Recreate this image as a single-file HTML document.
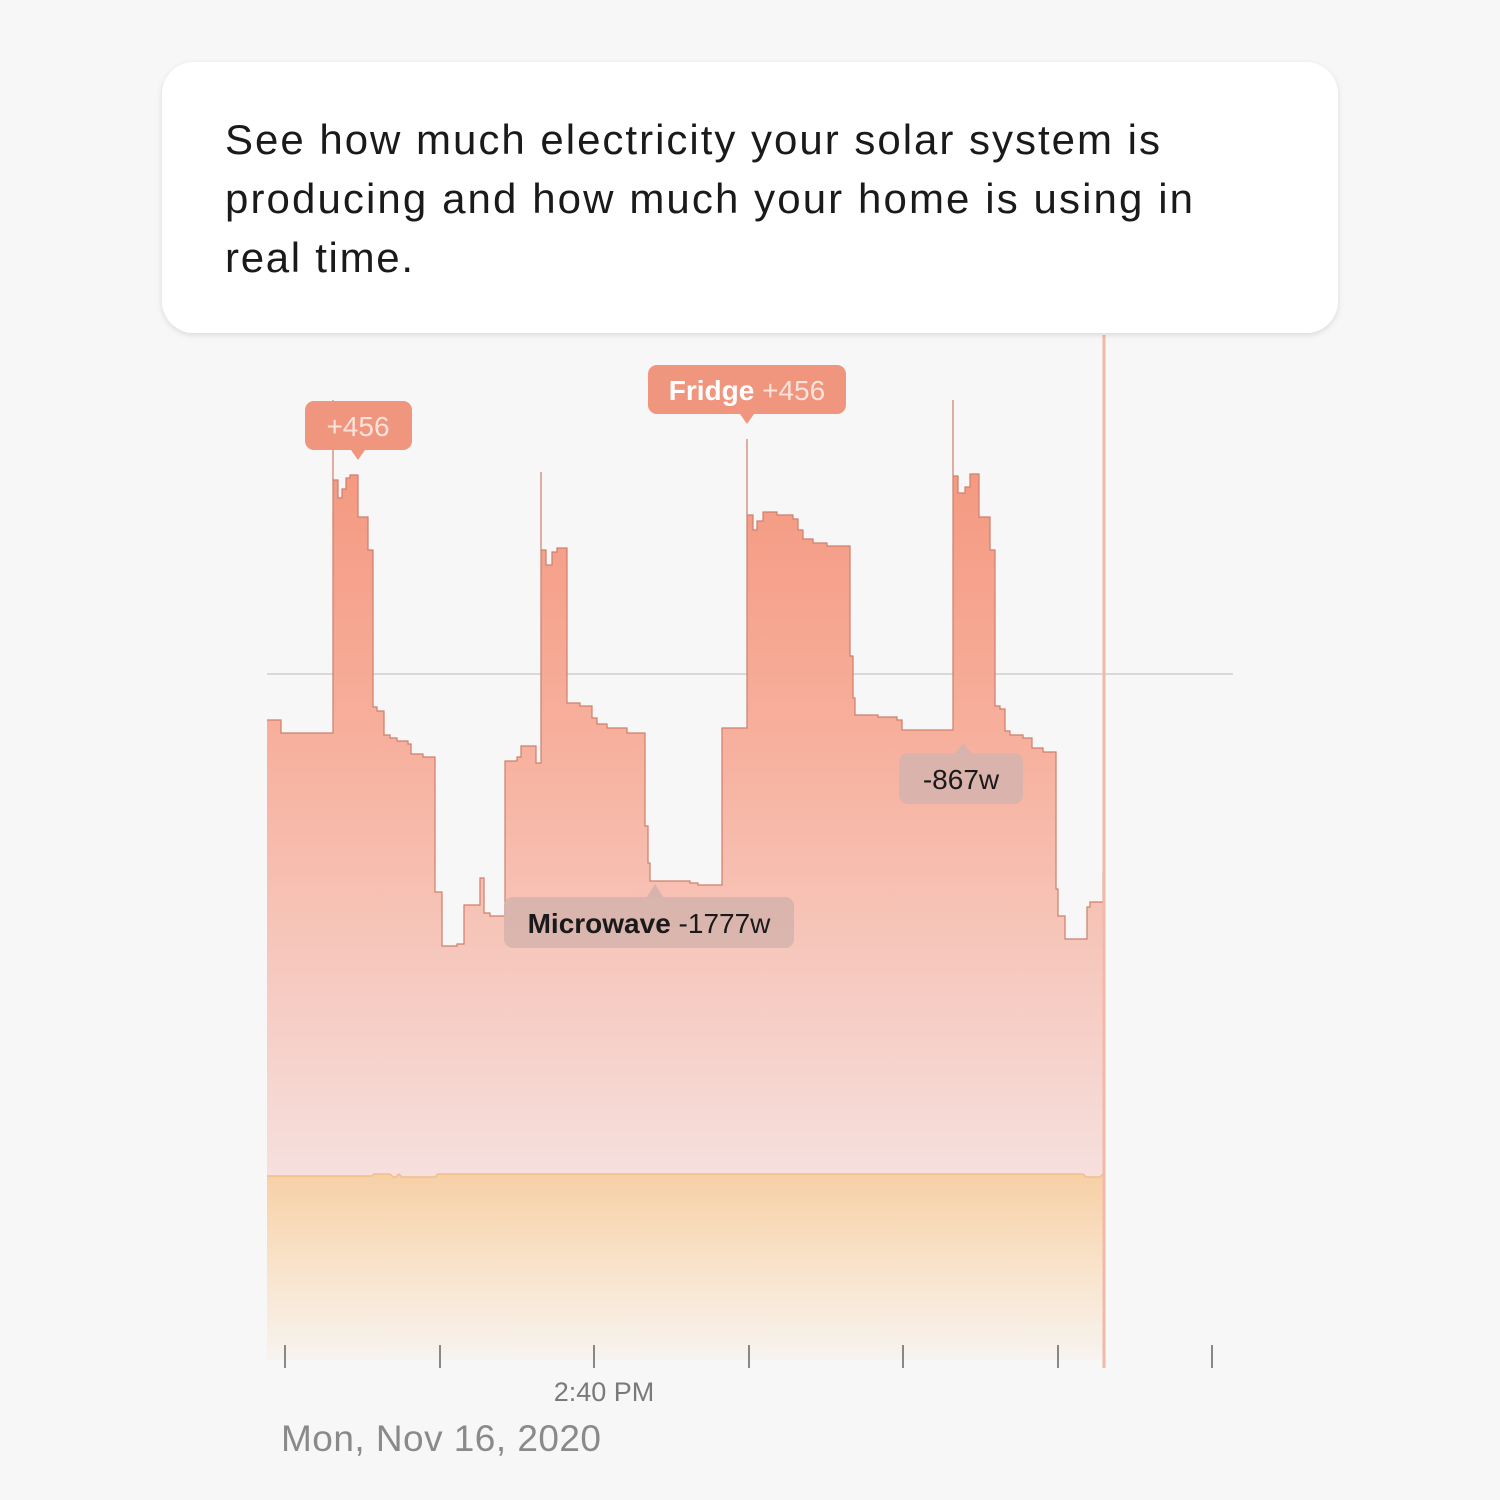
<!DOCTYPE html>
<html><head><meta charset="utf-8"><style>
html,body{margin:0;padding:0;background:#f7f7f7;}
svg{display:block}
</style></head><body>
<svg width="1500" height="1500" viewBox="0 0 1500 1500" xmlns="http://www.w3.org/2000/svg">
<defs>
<linearGradient id="g1" x1="0" y1="400" x2="0" y2="1180" gradientUnits="userSpaceOnUse">
<stop offset="0" stop-color="#f4937a"/>
<stop offset="0.45" stop-color="#f7b19e"/>
<stop offset="1" stop-color="#f6e0de"/>
</linearGradient>
<linearGradient id="g2" x1="0" y1="1176" x2="0" y2="1365" gradientUnits="userSpaceOnUse">
<stop offset="0" stop-color="#f7d0a6"/>
<stop offset="0.5" stop-color="#f8e4cc"/>
<stop offset="1" stop-color="#f7f4f2"/>
</linearGradient>
<filter id="sh" x="-5%" y="-10%" width="110%" height="125%"><feDropShadow dx="0" dy="2" stdDeviation="3" flood-color="#000" flood-opacity="0.12"/></filter>
</defs>
<rect width="1500" height="1500" fill="#f7f7f7"/>
<line x1="267" y1="674" x2="1233" y2="674" stroke="#d9d9d9" stroke-width="2"/>
<path id="top" fill="url(#g1)" stroke="none" d="M267,1360 L267,720 L281,720 L281,733 L333,733 L333,480 L338,480 L338,498 L342,498 L342,489 L346,489 L346,478 L350,478 L350,475 L358,475 L358,517 L368,517 L368,550 L373,550 L373,707 L377,707 L377,711 L384,711 L384,735 L390,735 L390,738 L397,738 L397,741 L408,741 L408,744 L411,744 L411,754 L423,754 L423,757 L435,757 L435,892 L442,892 L442,946 L457,946 L457,944 L464,944 L464,905 L480,905 L480,878 L484,878 L484,913 L490,913 L490,916 L505,916 L505,761 L517,761 L517,757 L521,757 L521,746 L536,746 L536,763 L541,763 L541,550 L546,550 L546,565 L552,565 L552,552 L557,552 L557,548 L567,548 L567,703 L580,703 L580,706 L592,706 L592,718 L597,718 L597,724 L607,724 L607,728 L627,728 L627,733 L645,733 L645,826 L648,826 L648,863 L650,863 L650,881 L690,881 L690,883 L698,883 L698,885 L722,885 L722,728 L747,728 L747,515 L753,515 L753,530 L757,530 L757,521 L763,521 L763,512 L777,512 L777,515 L793,515 L793,519 L798,519 L798,530 L803,530 L803,539 L813,539 L813,543 L827,543 L827,546 L850,546 L850,656 L853,656 L853,698 L855,698 L855,715 L878,715 L878,717 L897,717 L897,720 L902,720 L902,730 L953,730 L953,476 L958,476 L958,493 L965,493 L965,487 L970,487 L970,474 L979,474 L979,517 L990,517 L990,550 L995,550 L995,706 L1000,706 L1000,709 L1005,709 L1005,731 L1010,731 L1010,735 L1023,735 L1023,738 L1032,738 L1032,748 L1043,748 L1043,752 L1056,752 L1056,889 L1058,889 L1058,916 L1065,916 L1065,939 L1087,939 L1087,907 L1090,907 L1090,902 L1103,902 L1103,872 L1103,1360 Z"/>
<path fill="none" stroke="#cf7f6b" stroke-width="1.2" d="M267,720 L281,720 L281,733 L333,733 L333,400 L333,480 L338,480 L338,498 L342,498 L342,489 L346,489 L346,478 L350,478 L350,475 L358,475 L358,517 L368,517 L368,550 L373,550 L373,707 L377,707 L377,711 L384,711 L384,735 L390,735 L390,738 L397,738 L397,741 L408,741 L408,744 L411,744 L411,754 L423,754 L423,757 L435,757 L435,892 L442,892 L442,946 L457,946 L457,944 L464,944 L464,905 L480,905 L480,878 L484,878 L484,913 L490,913 L490,916 L505,916 L505,761 L517,761 L517,757 L521,757 L521,746 L536,746 L536,763 L541,763 L541,472 L541,550 L546,550 L546,565 L552,565 L552,552 L557,552 L557,548 L567,548 L567,703 L580,703 L580,706 L592,706 L592,718 L597,718 L597,724 L607,724 L607,728 L627,728 L627,733 L645,733 L645,826 L648,826 L648,863 L650,863 L650,881 L690,881 L690,883 L698,883 L698,885 L722,885 L722,728 L747,728 L747,439 L747,515 L753,515 L753,530 L757,530 L757,521 L763,521 L763,512 L777,512 L777,515 L793,515 L793,519 L798,519 L798,530 L803,530 L803,539 L813,539 L813,543 L827,543 L827,546 L850,546 L850,656 L853,656 L853,698 L855,698 L855,715 L878,715 L878,717 L897,717 L897,720 L902,720 L902,730 L953,730 L953,400 L953,476 L958,476 L958,493 L965,493 L965,487 L970,487 L970,474 L979,474 L979,517 L990,517 L990,550 L995,550 L995,706 L1000,706 L1000,709 L1005,709 L1005,731 L1010,731 L1010,735 L1023,735 L1023,738 L1032,738 L1032,748 L1043,748 L1043,752 L1056,752 L1056,889 L1058,889 L1058,916 L1065,916 L1065,939 L1087,939 L1087,907 L1090,907 L1090,902 L1103,902 L1103,872"/>
<path fill="url(#g2)" stroke="none" d="M267,1360 L267,1176 L372,1176 L374,1174 L390,1174 L393,1177 L396,1177 L399,1174 L402,1177 L435,1177 L438,1174 L1083,1174 L1086,1177 L1100,1177 L1103,1174 L1103,1360 Z"/>
<path fill="none" stroke="#efbf8a" stroke-width="1.5" d="M267,1176 L372,1176 L374,1174 L390,1174 L393,1177 L396,1177 L399,1174 L402,1177 L435,1177 L438,1174 L1083,1174 L1086,1177 L1100,1177 L1103,1174"/>
<line x1="1104" y1="335" x2="1104" y2="1368" stroke="#f2b8a8" stroke-width="3"/>
<g stroke="#888" stroke-width="2">
<line x1="285" y1="1345" x2="285" y2="1368"/><line x1="440" y1="1345" x2="440" y2="1368"/><line x1="594" y1="1345" x2="594" y2="1368"/><line x1="749" y1="1345" x2="749" y2="1368"/><line x1="903" y1="1345" x2="903" y2="1368"/><line x1="1058" y1="1345" x2="1058" y2="1368"/><line x1="1212" y1="1345" x2="1212" y2="1368"/>
</g>
<text x="604" y="1401" font-family="Liberation Sans, sans-serif" font-size="27" fill="#7a7a7a" text-anchor="middle">2:40 PM</text>
<text x="281" y="1451" font-family="Liberation Sans, sans-serif" font-size="37" fill="#8a8a8a" textLength="320">Mon, Nov 16, 2020</text>
<rect x="305" y="401" width="107" height="49" rx="9" fill="#f0957e"/>
<path d="M351,450 L358,460 L365,450 Z" fill="#f0957e"/>
<text x="358" y="436" font-family="Liberation Sans, sans-serif" font-size="28" fill="#fbe3dc" text-anchor="middle">+456</text>
<rect x="648" y="365" width="198" height="49" rx="9" fill="#f0957e"/>
<path d="M740,414 L747,424 L754,414 Z" fill="#f0957e"/>
<text x="747" y="400" font-family="Liberation Sans, sans-serif" font-size="28" fill="#fff" text-anchor="middle"><tspan font-weight="bold">Fridge</tspan><tspan fill="#fbe3dc"> +456</tspan></text>
<rect x="899" y="753" width="124" height="51" rx="9" fill="#d6b4ad" fill-opacity="0.9"/>
<path d="M955,753 L963,743 L971,753 Z" fill="#d6b4ad"/>
<text x="961" y="789" font-family="Liberation Sans, sans-serif" font-size="28" fill="#1a1a1a" text-anchor="middle">-867w</text>
<rect x="504" y="897" width="290" height="51" rx="9" fill="#d6b4ad" fill-opacity="0.9"/>
<path d="M647,897 L655,884 L663,897 Z" fill="#d6b4ad"/>
<text x="649" y="933" font-family="Liberation Sans, sans-serif" font-size="28" fill="#1a1a1a" text-anchor="middle"><tspan font-weight="bold">Microwave</tspan> -1777w</text>
<rect x="162" y="62" width="1176" height="271" rx="32" fill="#fff" filter="url(#sh)"/>
<g font-family="Liberation Sans, sans-serif" font-size="42" fill="#1a1a1a">
<text x="225" y="154" textLength="935">See how much electricity your solar system is</text>
<text x="225" y="213" textLength="968">producing and how much your home is using in</text>
<text x="225" y="272" textLength="188">real time.</text>
</g>
</svg>
</body></html>
